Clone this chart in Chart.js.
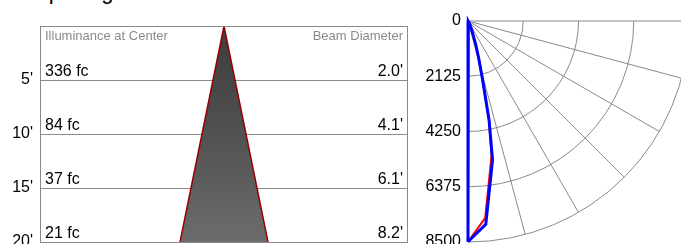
<!DOCTYPE html>
<html>
<head>
<meta charset="utf-8">
<script src="https://cdn.jsdelivr.net/npm/chart.js"></script>
<style>
  html, body { margin: 0; padding: 0; background: #fff; overflow: hidden; width: 681px; height: 244px; }
  #title { position: absolute; left: 34px; top: -19px; font: 22px "Liberation Sans", Arial, sans-serif; line-height: 22px; color: #000; white-space: nowrap; }
  #beam { position: absolute; left: 0; top: 0; }
  #polar { position: absolute; left: 410px; top: 0; }
</style>
</head>
<body>
<div id="title">Spacing</div>
<canvas id="beam" width="420" height="270"></canvas>
<canvas id="polar" width="279" height="260"></canvas>
<script>
// spacing chart data
let distances = [5, 10, 15, 20];
let illuminance = [336, 84, 37, 21];
let beamDiameter = [2.0, 4.1, 6.1, 8.2];

// candela curves (angle in degrees, value in cd)
let angles = [0, 5, 10, 12, 14, 16, 18, 20, 25, 30, 35, 40, 45, 50, 55, 60, 65, 70, 75, 80, 85, 90];
let blueCd = [8490, 7850, 5430, 3900, 2300, 1500, 1000, 600, 250, 80, 20, 0, 0, 0, 0, 0, 0, 0, 0, 0, 0, 0];
let redCd = [8490, 7600, 5230, 3850, 2300, 1500, 1000, 600, 250, 80, 20, 0, 0, 0, 0, 0, 0, 0, 0, 0, 0, 0];
let radiusTicks = [0, 2125, 4250, 6375, 8500];
let spokes = [0, 15, 30, 45, 60, 75, 90];

const FONT = '"Liberation Sans", Arial, sans-serif';
Chart.defaults.font.family = FONT;
Chart.defaults.animation = false;

// ---------- left: beam spread ----------
const last = distances.length - 1;
const beamShape = [
    { x: -beamDiameter[last] / 2, y: distances[last] },
    { x: 0, y: 0 },
    { x: beamDiameter[last] / 2, y: distances[last] },
    { x: -beamDiameter[last] / 2, y: distances[last] }
];

const beamLabels = {
    id: 'beamLabels',
    afterDraw(chart) {
        const ctx = chart.ctx;
        const a = chart.chartArea;
        const y = chart.scales.y;
        ctx.save();
        ctx.strokeStyle = '#8a8a8a';
        ctx.lineWidth = 1;
        ctx.strokeRect(a.left + 0.5, a.top + 0.5, a.right - a.left - 1, a.bottom - a.top);
        ctx.fillStyle = '#8a8a8a';
        ctx.font = '13px ' + FONT;
        ctx.textBaseline = 'alphabetic';
        ctx.textAlign = 'left';
        ctx.fillText('Illuminance at Center', a.left + 5, a.top + 14);
        ctx.textAlign = 'right';
        ctx.fillText('Beam Diameter', a.right - 5, a.top + 14);
        ctx.fillStyle = '#000';
        ctx.font = '16px ' + FONT;
        distances.forEach((d, i) => {
            const py = y.getPixelForValue(d) - 4;
            ctx.textAlign = 'left';
            ctx.fillText(illuminance[i] + ' fc', a.left + 5, py);
            ctx.textAlign = 'right';
            ctx.fillText(beamDiameter[i].toFixed(1) + "'", a.right - 5, py);
        });
        ctx.restore();
    }
};

new Chart(document.getElementById('beam'), {
    type: 'scatter',
    data: {
        datasets: [{
            data: beamShape,
            showLine: true,
            pointRadius: 0,
            borderColor: '#990000',
            borderWidth: 1.5,
            fill: 'shape',
            backgroundColor: function (context) {
                const area = context.chart.chartArea;
                if (!area) return '#444';
                const g = context.chart.ctx.createLinearGradient(0, area.top, 0, area.bottom);
                g.addColorStop(0, '#3c3c3c');
                g.addColorStop(0.5, '#515151');
                g.addColorStop(1, '#6c6c6c');
                return g;
            },
            segment: {
                borderColor: ctx => ctx.p0DataIndex === 2 ? 'rgba(0,0,0,0)' : undefined
            }
        }]
    },
    options: {
        responsive: false,
        layout: { padding: { top: 26, right: 12, bottom: 28, left: 0 } },
        plugins: { legend: { display: false }, tooltip: { enabled: false } },
        scales: {
            x: { display: false, min: -17.15, max: 17.15 },
            y: {
                reverse: true,
                min: 0,
                max: 20,
                afterBuildTicks: s => { s.ticks = [0].concat(distances).map(v => ({ value: v })); },
                afterFit: s => { s.width = 40; },
                border: { display: false },
                grid: { color: '#8a8a8a', drawTicks: false },
                ticks: {
                    padding: 7,
                    color: '#000',
                    font: { size: 16 },
                    callback: v => v === 0 ? '' : v + "'"
                }
            }
        }
    },
    plugins: [beamLabels]
});

// ---------- right: candela polar ----------
function toXY(cd) {
    const pts = angles.map((deg, i) => {
        const t = deg * Math.PI / 180;
        return { x: cd[i] * Math.sin(t), y: cd[i] * Math.cos(t) };
    });
    pts.push(pts[0]); // close the curve
    return pts;
}

const polarGrid = {
    id: 'polarGrid',
    beforeDatasetsDraw(chart) {
        const ctx = chart.ctx;
        const xs = chart.scales.x;
        const ys = chart.scales.y;
        const cx = xs.getPixelForValue(0);
        const cy = ys.getPixelForValue(0);
        ctx.save();
        ctx.strokeStyle = '#8a8a8a';
        ctx.lineWidth = 1;
        radiusTicks.slice(1).forEach(r => {
            const R = xs.getPixelForValue(r) - cx;
            ctx.beginPath();
            ctx.arc(cx, cy, R, 0, Math.PI / 2);
            ctx.stroke();
        });
        const R = xs.getPixelForValue(radiusTicks[radiusTicks.length - 1]) - cx;
        spokes.forEach(deg => {
            const t = deg * Math.PI / 180;
            ctx.beginPath();
            ctx.moveTo(cx, cy);
            ctx.lineTo(cx + R * Math.sin(t), cy + R * Math.cos(t));
            ctx.stroke();
        });
        ctx.restore();
    }
};

new Chart(document.getElementById('polar'), {
    type: 'scatter',
    data: {
        datasets: [{
            data: toXY(blueCd),
            showLine: true,
            pointRadius: 0,
            borderColor: '#0000ff',
            borderWidth: 3,
            clip: false
        }, {
            data: toXY(redCd),
            showLine: true,
            pointRadius: 0,
            borderColor: '#ff0000',
            borderWidth: 2,
            clip: false
        }]
    },
    options: {
        responsive: false,
        layout: { padding: { top: 21, right: 0, bottom: 18, left: 0 } },
        plugins: { legend: { display: false }, tooltip: { enabled: false } },
        scales: {
            x: { display: false, min: 0, max: 8500 },
            y: {
                reverse: true,
                min: 0,
                max: 8500,
                afterBuildTicks: s => { s.ticks = radiusTicks.map(v => ({ value: v })); },
                afterFit: s => { s.width = 58; },
                border: { display: false },
                grid: { display: false, drawTicks: false },
                ticks: {
                    padding: 7,
                    color: '#000',
                    font: { size: 16 },
                    callback: v => String(v)
                }
            }
        }
    },
    plugins: [polarGrid]
});
</script>
</body>
</html>
